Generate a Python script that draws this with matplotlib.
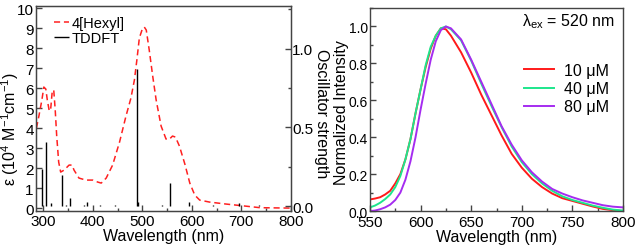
import numpy as np
import matplotlib
matplotlib.use("Agg")
import matplotlib.pyplot as plt
from matplotlib.ticker import MultipleLocator

plt.rcParams['font.family'] = ['Liberation Sans', 'DejaVu Sans']
plt.rcParams['mathtext.fontset'] = 'custom'
plt.rcParams['mathtext.rm'] = 'Liberation Sans'
plt.rcParams['mathtext.it'] = 'Liberation Sans:italic'
plt.rcParams['mathtext.default'] = 'regular'

# absorption spectrum of 4[Hexyl] (10^4 M-1 cm-1)
abs_wl = [286, 291, 297, 301, 305, 308, 312, 315, 318, 321, 324, 327, 331, 335, 342,
          352, 358, 362, 372, 386, 400, 410, 417, 427, 440, 454, 467, 477, 484, 489,
          494, 500, 504, 508, 514, 521, 528, 538, 548, 555, 561, 567, 575, 586, 596,
          606, 616, 636, 670, 697, 738, 800]
abs_eps = [4.0, 4.6, 5.4, 6.05, 5.95, 5.4, 4.85, 5.0, 5.85, 5.9, 4.9, 3.6, 2.3, 1.8, 1.9,
           2.15, 2.15, 1.9, 1.5, 1.4, 1.4, 1.3, 1.25, 1.5, 2.15, 3.3, 4.6, 5.5, 6.4, 7.4,
           8.5, 8.95, 9.05, 8.9, 7.9, 6.6, 5.4, 4.1, 3.45, 3.45, 3.6, 3.55, 3.1, 2.2, 1.25,
           0.65, 0.4, 0.3, 0.2, 0.13, 0.02, 0.0]

# TDDFT transitions (oscillator strength)
tddft_wl = [297, 306, 315, 338, 346, 354, 383, 389, 415, 445, 489, 492, 539, 555, 595, 642, 695, 735]
tddft_f = [0.24, 0.41, 0.02, 0.20, 0.01, 0.05, 0.01, 0.03, 0.01, 0.01, 0.87, 0.03, 0.01, 0.15, 0.03, 0.01, 0.02, 0.01]

# normalized emission spectra
em_wl = [550, 555, 560, 565, 570, 575, 580, 585, 590, 595, 600, 605, 610, 615, 620, 625,
         630, 640, 650, 660, 670, 680, 690, 700, 710, 720, 730, 740, 750, 760, 770, 780, 790, 800]
em_10 = [0.063, 0.068, 0.075, 0.09, 0.11, 0.15, 0.20, 0.28, 0.39, 0.53, 0.66, 0.78, 0.88, 0.95, 0.99, 0.985,
         0.95, 0.86, 0.75, 0.63, 0.52, 0.41, 0.31, 0.235, 0.175, 0.13, 0.095, 0.07, 0.055, 0.04, 0.025, 0.012, 0.005, 0.0]
em_40 = [0.02, 0.03, 0.045, 0.065, 0.09, 0.13, 0.19, 0.28, 0.39, 0.53, 0.66, 0.79, 0.89, 0.95, 0.99, 1.0,
         0.985, 0.925, 0.815, 0.69, 0.57, 0.455, 0.35, 0.265, 0.20, 0.15, 0.11, 0.08, 0.06, 0.045, 0.03, 0.018, 0.008, 0.003]
em_80 = [0.0, 0.003, 0.01, 0.02, 0.035, 0.06, 0.10, 0.17, 0.27, 0.40, 0.55, 0.69, 0.82, 0.92, 0.98, 1.0,
         0.99, 0.93, 0.82, 0.70, 0.58, 0.46, 0.36, 0.275, 0.21, 0.16, 0.12, 0.095, 0.075, 0.058, 0.045, 0.032, 0.024, 0.02]
em_labels = ['10 μM', '40 μM', '80 μM']
em_colors = ['#ff1a1a', '#1de68c', '#a52cf0']

spine_c = '#444444'
fs = 11.5   # axis labels
tfs = 11    # tick labels


def style_axis(ax):
    for side in ['top', 'bottom', 'left', 'right']:
        ax.spines[side].set_color(spine_c)
        ax.spines[side].set_linewidth(1.0)
    ax.tick_params(which='both', direction='in', colors=spine_c, labelcolor='black',
                   labelsize=tfs, top=False, right=False)
    ax.tick_params(which='major', length=4, width=1, pad=2)
    ax.tick_params(which='minor', length=2.5, width=1)


fig = plt.figure(figsize=(6.39, 2.51), dpi=100)

# left panel: absorption + TDDFT
ax1 = fig.add_axes([0.057, 0.155, 0.398, 0.817])
style_axis(ax1)
ax1.plot(abs_wl, abs_eps, color='#ff2020', lw=1.1, ls=(0, (4, 2.5)), label='4[Hexyl]')
ax1.set_xlim(286, 800)
ax1.set_ylim(-0.15, 10.1)
ax1.xaxis.set_major_locator(MultipleLocator(100))
ax1.xaxis.set_minor_locator(MultipleLocator(50))
ax1.yaxis.set_major_locator(MultipleLocator(1))
ax1.set_xlabel('Wavelength (nm)', fontsize=fs, labelpad=0)
ax1.set_ylabel('ε (10$^4$ M$^{-1}$cm$^{-1}$)', fontsize=fs, va='center')
ax1.yaxis.set_label_coords(-0.104, 0.405)

ax1b = ax1.twinx()
ax1b.vlines(tddft_wl, 0, tddft_f, color='black', lw=1.0, label='TDDFT')
ax1b.set_ylim(-0.03, 1.27)
ax1b.yaxis.set_major_locator(MultipleLocator(0.5))
ax1b.yaxis.set_minor_locator(MultipleLocator(0.25))
ax1b.tick_params(which='both', direction='in', colors=spine_c, labelcolor='black', labelsize=tfs)
ax1b.tick_params(which='major', length=4, width=1, pad=1)
ax1b.tick_params(which='minor', length=2.5, width=1)
ax1b.set_ylabel('Oscillator strength', fontsize=fs, rotation=270, va='center')
ax1b.yaxis.set_label_coords(1.12, 0.48)
for side in ['top', 'bottom', 'left', 'right']:
    ax1b.spines[side].set_color(spine_c)

h1, l1 = ax1.get_legend_handles_labels()
h2, l2 = ax1b.get_legend_handles_labels()
ax1.legend(h1 + h2, l1 + l2, loc='upper left', bbox_to_anchor=(0.03, 1.0), frameon=False,
           fontsize=10.5, handlelength=1.0, handletextpad=0.2, labelspacing=0.05,
           borderaxespad=0.3)

# right panel: emission
ax2 = fig.add_axes([0.579, 0.155, 0.396, 0.809])
style_axis(ax2)
ax2.tick_params(axis='y', labelsize=10, pad=1.5)
ax2.tick_params(axis='x', pad=3)
for ys, lab, col in zip([em_10, em_40, em_80], em_labels, em_colors):
    ax2.plot(em_wl, ys, color=col, lw=1.4, label=lab)
ax2.set_xlim(550, 800)
ax2.set_ylim(0, 1.1)
ax2.xaxis.set_major_locator(MultipleLocator(50))
ax2.xaxis.set_minor_locator(MultipleLocator(25))
ax2.yaxis.set_major_locator(MultipleLocator(0.2))
ax2.yaxis.set_minor_locator(MultipleLocator(0.1))
ax2.yaxis.set_major_formatter(plt.FormatStrFormatter('%.1f'))
ax2.set_xlabel('Wavelength (nm)', fontsize=fs, labelpad=0)
ax2.set_ylabel('Normalized Intensity', fontsize=fs, va='center')
ax2.yaxis.set_label_coords(-0.113, 0.49)
ax2.text(0.97, 0.94, r'$\lambda_{ex}$ = 520 nm', transform=ax2.transAxes, ha='right', va='center',
         fontsize=fs)
ax2.legend(loc='upper right', bbox_to_anchor=(1.0, 0.8), frameon=False, fontsize=fs,
           handlelength=1.9, handletextpad=0.6, labelspacing=0.2)

fig.savefig('out.png', dpi=100)
